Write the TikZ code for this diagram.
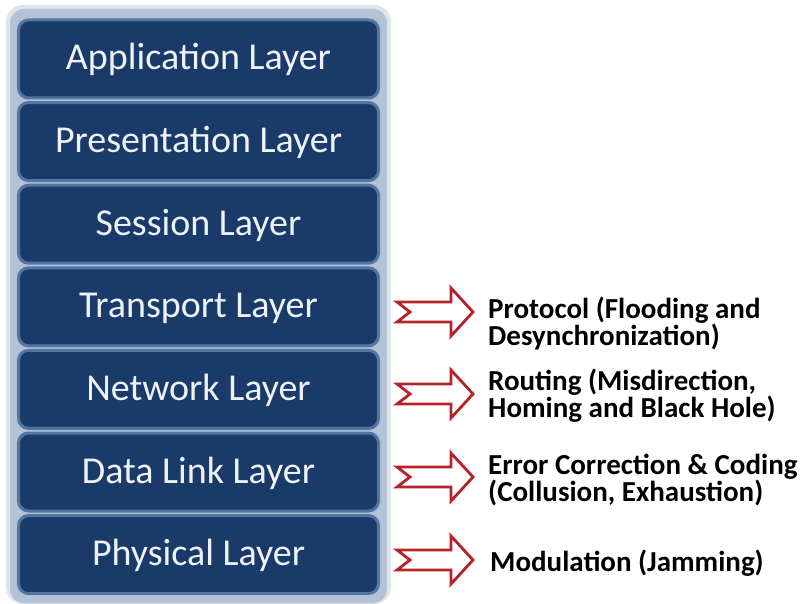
\documentclass[tikz,border=0pt]{standalone}
\usepackage{fontspec}
\setmainfont{Carlito}
\definecolor{navy}{HTML}{1A3A69}
\definecolor{navyedge}{HTML}{5275A2}
\definecolor{panelblue}{HTML}{B3C2D4}
\definecolor{panelhaze}{HTML}{DDE4EC}
\definecolor{attackred}{HTML}{B8232B}
\definecolor{labelwhite}{HTML}{EEF3F9}
\tikzset{
  layerbox/.style={fill=navy, draw=navyedge, line width=3pt, rounded corners=10pt,
    minimum width=360pt, minimum height=78pt, inner sep=0pt,
    text=labelwhite, font=\fontsize{38}{40}\selectfont,
    text height=26pt, text depth=4pt},
  attacktext/.style={anchor=west, align=left, inner sep=0pt, text=black,
    font=\bfseries\fontsize{29}{27}\selectfont},
  attackarrow/.style={draw=attackred, fill=white, line width=2.8pt, line join=miter}
}
% notched-tail block arrow starting at the given point
\newcommand\notcharrow[1]{%
  \draw[attackarrow] (#1) ++(0,-10) -- ++(54,0) -- ++(0,-14) -- ++(22,24)
    -- ++(-22,24) -- ++(0,-14) -- ++(-54,0) -- ++(13,-10) -- cycle;}
\begin{document}
\begin{tikzpicture}[x=1pt,y=-1pt]
\useasboundingbox (0,0) rectangle (808,604);
\fill[white] (0,0) rectangle (808,604);

% frame behind the layer stack
\fill[panelhaze, rounded corners=17pt] (6,5) rectangle (391,604);
\fill[panelblue, rounded corners=14pt] (10,9) rectangle (387,603);

% the seven layers
\node[layerbox] (app)  at (198.5, 59.0) {Application Layer};
\node[layerbox] (pres) at (198.5,141.6) {Presentation Layer};
\node[layerbox] (sess) at (198.5,224.2) {Session Layer};
\node[layerbox] (tran) at (198.5,306.8) {Transport Layer};
\node[layerbox] (netw) at (198.5,389.4) {Network Layer};
\node[layerbox] (dlink) at (198.5,472.0) {Data Link Layer};
\node[layerbox] (phys) at (198.5,554.6) {Physical Layer};

% attack arrows
\coordinate (atran) at (397,312);
\coordinate (anetw) at (397,394);
\coordinate (adlink) at (397,477);
\coordinate (aphys) at (397,560);
\notcharrow{atran}
\notcharrow{anetw}
\notcharrow{adlink}
\notcharrow{aphys}

% attacks per layer
\node[attacktext] (ttran) at (488,324) {Protocol (Flooding and\\Desynchronization)};
\node[attacktext] (tnetw) at (488,396) {Routing (Misdirection,\\Homing and Black Hole)};
\node[attacktext] (tdlink) at (488,480) {Error Correction \& Coding\\(Collusion, Exhaustion)};
\node[attacktext] (tphys) at (490,563) {Modulation (Jamming)};
\end{tikzpicture}
\end{document}
